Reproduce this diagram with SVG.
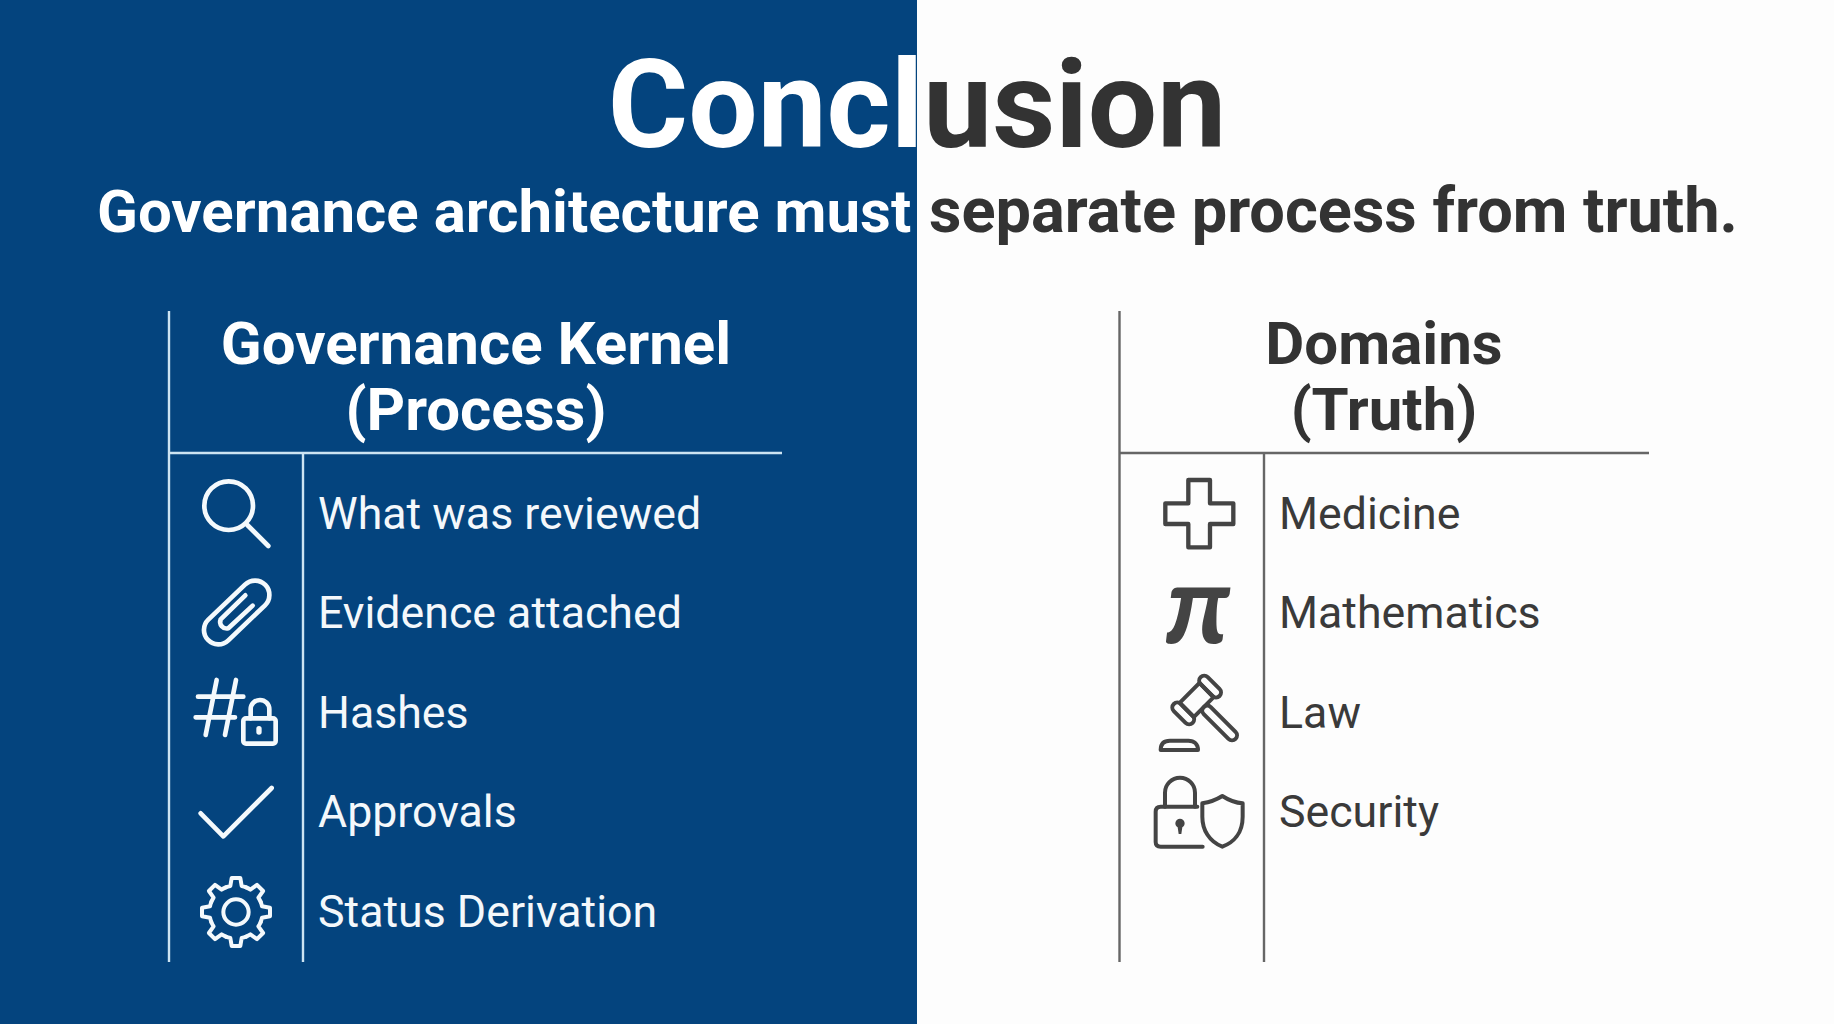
<svg xmlns="http://www.w3.org/2000/svg" width="1834" height="1024" viewBox="0 0 1834 1024">
<style>
text{font-family:Roboto,"Liberation Sans",sans-serif}
.title{font-size:123px;font-weight:700;text-anchor:middle}
.sub{font-size:60px;font-weight:700}
.head{font-size:60px;font-weight:700;text-anchor:middle}
.item{font-size:44.700px;font-weight:400}
.lw{fill:#f4f8fb}.ld{fill:#3a3a3a}
.hw{fill:#fff}.hd{fill:#333}
.rw{stroke:#cde4f2;stroke-width:2.4;fill:none}
.rd{stroke:#666;stroke-width:2.4;fill:none}
.iw{fill:none;stroke:#f4f9fc;stroke-width:14;stroke-linecap:round;stroke-linejoin:round}
.id{fill:none;stroke:#444;stroke-width:12;stroke-linecap:round;stroke-linejoin:round}
</style>
<defs>
<linearGradient id="split" gradientUnits="userSpaceOnUse" x1="0" y1="0" x2="1834" y2="0">
<stop offset="0.5" stop-color="#fff"/><stop offset="0.5" stop-color="#333"/>
</linearGradient>
<path id="gearSeg" d="M-30.6 -73.9A80 80 0 0 1 -17 -78L-13 -102H13L17 -78A80 80 0 0 1 30.6 -73.9"/>
</defs>
<rect width="1834" height="1024" fill="#fdfdfd"/>
<rect id="blue-panel" width="917" height="1024" fill="#04447e"/>
<g id="heading">
<text class="title" x="917" y="147" fill="url(#split)">Conclusion</text>
<text class="sub" y="232" fill="url(#split)"><tspan x="97">Governance architecture must</tspan> <tspan x="929" font-size="63.100">separate process from truth.</tspan></text>
</g>
<g id="connectors">
<path class="rw" d="M169 311V962M169 453H782M303 453V962"/>
<path class="rd" d="M1119.500 311V962M1119.500 453H1649M1264 453V962"/>
</g>
<g id="kernel-header">
<text class="head hw" x="476" y="364">Governance Kernel</text>
<text class="head hw" x="476" y="430">(Process)</text>
</g>
<g id="domains-header">
<text class="head hd" x="1384" y="364">Domains</text>
<text class="head hd" x="1384" y="430">(Truth)</text>
</g>
<g id="kernel-reviewed">
<g transform="translate(160 440) scale(.3333)" class="iw"><circle cx="206" cy="197" r="73"/><path d="M262 255L325 318"/></g>
<text class="item lw" x="318" y="529">What was reviewed</text>
</g>
<g id="kernel-evidence">
<g transform="translate(160 440) scale(.3333)" class="iw"><path d="M255 434L145 539A43 43 0 0 0 205 601L315 496A43 43 0 0 0 255 434Z"/><path d="M256 466L182 538A20 20 0 0 0 205 565L278 497"/></g>
<text class="item lw" x="318" y="628">Evidence attached</text>
</g>
<g id="kernel-hashes">
<g transform="translate(160 440) scale(.3333)" class="iw"><path d="M114 770H250M107 832H225M170 720L137 885M228 720L195 885"/><rect x="250" y="835" width="97" height="76" rx="8"/><path d="M272 835V808A28 28 0 0 1 328 808V835"/><path d="M297 866V876" stroke-width="16"/></g>
<text class="item lw" x="318" y="728">Hashes</text>
</g>
<g id="kernel-approvals">
<g transform="translate(160 740) scale(.3333)" class="iw"><path d="M122 220L190 289L335 144"/></g>
<text class="item lw" x="318" y="827">Approvals</text>
</g>
<g id="kernel-status">
<g transform="translate(236 912) scale(.3333)" class="iw" style="stroke-width:12">
<circle r="38"/>
<use href="#gearSeg"/><use href="#gearSeg" transform="rotate(45)"/><use href="#gearSeg" transform="rotate(90)"/><use href="#gearSeg" transform="rotate(135)"/><use href="#gearSeg" transform="rotate(180)"/><use href="#gearSeg" transform="rotate(225)"/><use href="#gearSeg" transform="rotate(270)"/><use href="#gearSeg" transform="rotate(315)"/>
</g>
<text class="item lw" x="318" y="927">Status Derivation</text>
</g>
<g id="domain-medicine">
<g transform="translate(1120 440) scale(.3333)" class="id" style="stroke-width:13"><path d="M205 120H270V190H340V252H270V322H205V252H136V190H205Z"/></g>
<text class="item ld" x="1279" y="529">Medicine</text>
</g>
<g id="domain-mathematics">
<text x="1198" y="643" font-size="110" font-weight="700" font-style="italic" text-anchor="middle" fill="#444" style="font-family:Lato,serif">π</text>
<text class="item ld" x="1279" y="628">Mathematics</text>
</g>
<g id="domain-law">
<g transform="translate(1120 660) scale(.3333)" class="id">
<g transform="translate(230 120) rotate(45)"><rect x="-40" y="-72" width="80" height="30" rx="15"/><rect x="-40" y="42" width="80" height="30" rx="15"/><rect x="-30" y="-42" width="60" height="84"/><rect x="30" y="-15" width="135" height="30" rx="15"/></g>
<path d="M122 270C122 252 132 242 150 242H205C223 242 234 252 234 270Z"/>
</g>
<text class="item ld" x="1279" y="728">Law</text>
</g>
<g id="domain-security">
<g transform="translate(1120 660) scale(.3333)" class="id">
<path d="M232 440H122Q107 440 107 455V546Q107 560 122 560H248"/><path d="M135 440V398A45 45 0 0 1 225 398V440"/>
<path d="M180 476a14 14 0 0 1 7 26l-3 20h-8l-3 -20a14 14 0 0 1 7 -26Z" fill="#444" stroke="none"/>
<path d="M307 408Q338 428 368 430V470C368 520 340 548 307 560C268 545 247 510 247 470V430Q280 425 307 408Z"/>
</g>
<text class="item ld" x="1279" y="827">Security</text>
</g>
</svg>
